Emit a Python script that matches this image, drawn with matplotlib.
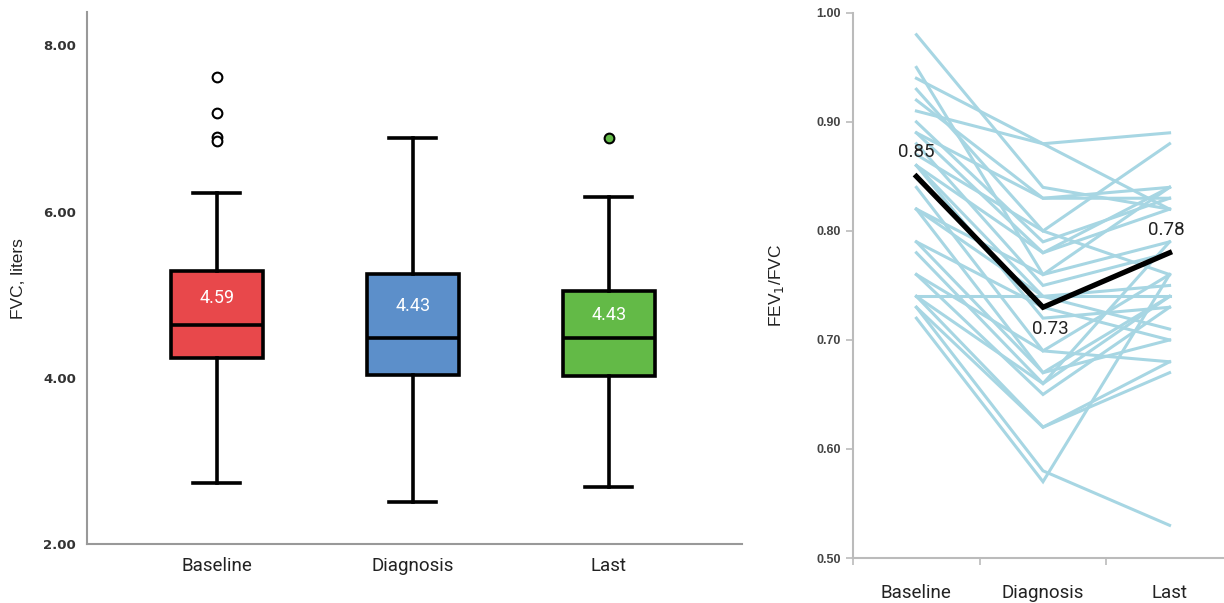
import matplotlib
matplotlib.use("Agg")
import matplotlib.pyplot as plt
from matplotlib.ticker import FixedLocator

# ---------------- data ----------------
groups = ["Baseline", "Diagnosis", "Last"]
box_colors = ["#E8484B", "#5C8FCA", "#63BA47"]
fvc_whislo = [2.74, 2.51, 2.69]
fvc_q1 = [4.24, 4.04, 4.02]
fvc_med = [4.63, 4.48, 4.48]
fvc_q3 = [5.28, 5.25, 5.04]
fvc_whishi = [6.23, 6.89, 6.18]
fvc_outliers = [[7.62, 7.19, 6.90, 6.85], [], [6.89]]
fvc_labels = ["4.59", "4.43", "4.43"]
fvc_yticks = [2.0, 4.0, 6.0, 8.0]

ratio_baseline = [0.98, 0.95, 0.94, 0.93, 0.92, 0.91, 0.90, 0.89, 0.88, 0.87,
                  0.86, 0.86, 0.86, 0.84, 0.82, 0.82, 0.82, 0.79, 0.78, 0.76,
                  0.76, 0.74, 0.74, 0.74, 0.73, 0.73, 0.72, 0.79, 0.89]
ratio_diagnosis = [0.84, 0.76, 0.88, 0.80, 0.83, 0.88, 0.79, 0.78, 0.75, 0.80,
                   0.74, 0.78, 0.72, 0.69, 0.76, 0.74, 0.67, 0.73, 0.66, 0.65,
                   0.69, 0.74, 0.62, 0.66, 0.58, 0.62, 0.57, 0.67, 0.83]
ratio_last = [0.82, 0.79, 0.89, 0.88, 0.84, 0.82, 0.83, 0.84, 0.78, 0.76,
              0.75, 0.82, 0.73, 0.76, 0.84, 0.71, 0.74, 0.70, 0.74, 0.73,
              0.68, 0.74, 0.67, 0.79, 0.53, 0.68, 0.76, 0.70, 0.83]
ratio_mean = [0.85, 0.73, 0.78]
ratio_mean_labels = ["0.85", "0.73", "0.78"]
ratio_yticks = [0.50, 0.60, 0.70, 0.80, 0.90, 1.00]

# ---------------- figure ----------------
fig = plt.figure(figsize=(12.24, 6.03), dpi=100)

# ---- left: box plot ----
ax1 = fig.add_axes([0.0711, 0.0978, 0.535, 0.882])
stats = []
for i in range(3):
    stats.append(dict(med=fvc_med[i], q1=fvc_q1[i], q3=fvc_q3[i],
                      whislo=fvc_whislo[i], whishi=fvc_whishi[i],
                      fliers=fvc_outliers[i], label=groups[i]))
bp = ax1.bxp(stats, positions=[0, 1, 2], widths=0.47, patch_artist=True,
             showfliers=True, capwidths=0.24,
             boxprops=dict(linewidth=2.6, edgecolor="black"),
             medianprops=dict(color="black", linewidth=2.6),
             whiskerprops=dict(color="black", linewidth=2.6),
             capprops=dict(color="black", linewidth=2.6))
for patch, c in zip(bp["boxes"], box_colors):
    patch.set_facecolor(c)
flier_faces = ["white", "white", box_colors[2]]
for fl, fc in zip(bp["fliers"], flier_faces):
    fl.set(marker="o", markersize=7, markerfacecolor=fc,
           markeredgecolor="black", markeredgewidth=1.5)
for i in range(3):
    ax1.text(i, (fvc_q3[i] + fvc_med[i]) / 2, fvc_labels[i], color="white",
             ha="center", va="center", fontsize=13, family="Roboto")

ax1.set_xlim(-0.663, 2.68)
ax1.set_ylim(2.0, 8.4)
ax1.set_yticks(fvc_yticks)
ax1.set_yticklabels([f"{v:.2f}" for v in fvc_yticks], fontsize=9.5,
                    fontweight="bold", color="#333333", family="DejaVu Sans")
ax1.set_xticks([0, 1, 2])
ax1.set_xticklabels(groups, fontsize=13.5, family="Roboto", color="#222222")
ax1.tick_params(axis="both", length=0)
ax1.tick_params(axis="y", pad=8)
ax1.tick_params(axis="x", pad=9)
for s in ["top", "right"]:
    ax1.spines[s].set_visible(False)
for s in ["left", "bottom"]:
    ax1.spines[s].set_color("#999999")
    ax1.spines[s].set_linewidth(1.5)
ax1.set_ylabel("FVC, liters", fontsize=12.5, family="Liberation Sans",
               color="#222222", labelpad=12)

# ---- right: spaghetti plot ----
ax2 = fig.add_axes([0.697, 0.0746, 0.303, 0.904])
xs = [0, 1, 2]
for b, d, l in zip(ratio_baseline, ratio_diagnosis, ratio_last):
    ax2.plot(xs, [b, d, l], color="#A7D6E3", linewidth=2.2,
             solid_joinstyle="miter")
ax2.plot(xs, ratio_mean, color="black", linewidth=3.8, solid_joinstyle="miter")
ax2.annotate(ratio_mean_labels[0], (0, ratio_mean[0]), xytext=(0, 11),
             textcoords="offset points", ha="center", va="bottom",
             fontsize=13.5, family="Roboto", color="#222222")
ax2.annotate(ratio_mean_labels[1], (1, ratio_mean[1]), xytext=(5, -9),
             textcoords="offset points", ha="center", va="top",
             fontsize=13.5, family="Roboto", color="#222222")
ax2.annotate(ratio_mean_labels[2], (2, ratio_mean[2]), xytext=(-2, 10),
             textcoords="offset points", ha="center", va="bottom",
             fontsize=13.5, family="Roboto", color="#222222")

ax2.set_xlim(-0.5, 2.43)
ax2.set_ylim(0.5, 1.0)
ax2.set_yticks(ratio_yticks)
ax2.set_yticklabels([f"{v:.2f}" for v in ratio_yticks], fontsize=9,
                    fontweight="bold", color="#444444", family="Liberation Sans")
ax2.set_xticks(xs)
ax2.set_xticklabels(groups, fontsize=13.5, family="Roboto", color="#222222")
ax2.xaxis.set_minor_locator(FixedLocator([-0.5, 0.5, 1.5]))
ax2.tick_params(axis="x", which="major", length=0, pad=19)
ax2.tick_params(axis="x", which="minor", length=5, color="#bbbbbb", width=1.2)
ax2.tick_params(axis="y", length=5, color="#bbbbbb", width=1.2, pad=4)
for s in ["top", "right"]:
    ax2.spines[s].set_visible(False)
for s in ["left", "bottom"]:
    ax2.spines[s].set_color("#bbbbbb")
    ax2.spines[s].set_linewidth(1.5)
ax2.set_ylabel("FEV$_1$/FVC", fontsize=12.5, family="Liberation Sans",
               color="#222222", labelpad=22)

fig.savefig("out.png", dpi=100)
